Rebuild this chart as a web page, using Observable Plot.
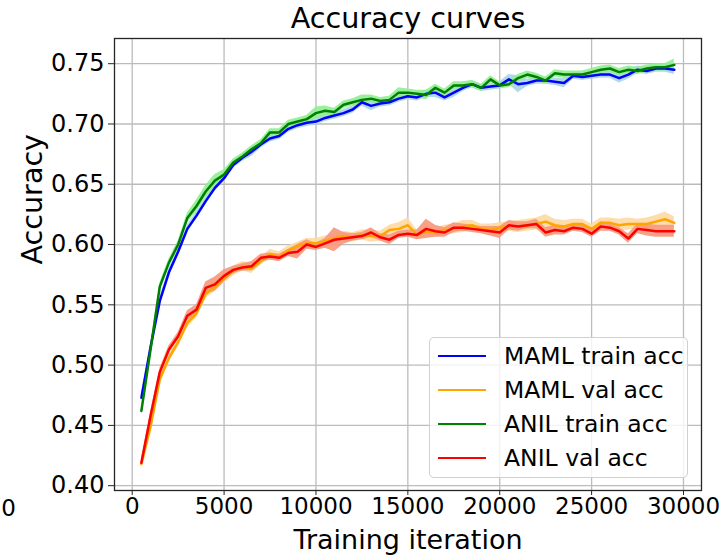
<!DOCTYPE html>
<html><head><meta charset="utf-8">
<script src="https://cdn.jsdelivr.net/npm/d3@7"></script>
<script src="https://cdn.jsdelivr.net/npm/@observablehq/plot@0.6"></script>
<style>
body{margin:0;background:#fff;}
#wrap{position:relative;width:724px;height:556px;font-family:"DejaVu Sans",sans-serif;background:#fff;}
#legend{position:absolute;left:429px;top:337px;width:259px;height:141px;border:1.3px solid #d0d0d0;border-radius:5px;background:rgba(255,255,255,0.8);box-sizing:border-box;}
.sw{position:absolute;left:8px;width:48px;height:2.5px;}
.lt{position:absolute;left:74px;height:30px;line-height:30px;font-size:23.5px;color:#000;white-space:nowrap;}
</style></head>
<body><div id="wrap"></div>
<script>
const iterations = [500,1000,1500,2000,2500,3000,3500,4000,4500,5000,5500,6000,6500,7000,7500,8000,8500,9000,9500,10000,10500,11000,11500,12000,12500,13000,13500,14000,14500,15000,15500,16000,16500,17000,17500,18000,18500,19000,19500,20000,20500,21000,21500,22000,22500,23000,23500,24000,24500,25000,25500,26000,26500,27000,27500,28000,28500,29000,29500];

const mamlTrain = [0.473,0.515,0.553,0.577,0.594,0.613,0.624,0.636,0.647,0.655,
 0.666,0.672,0.677,0.683,0.688,0.690,0.696,0.699,0.701,0.702,
 0.705,0.707,0.709,0.712,0.718,0.715,0.717,0.718,0.721,0.723,
 0.722,0.725,0.726,0.722,0.726,0.730,0.733,0.730,0.731,0.732,
 0.737,0.733,0.734,0.736,0.736,0.735,0.734,0.740,0.739,0.740,
 0.741,0.741,0.738,0.741,0.745,0.744,0.746,0.746,0.745];
const mamlTrainStd = [0.003,0.003,0.003,0.003,0.003,0.003,0.003,0.003,0.003,0.003,
 0.003,0.003,0.004,0.003,0.003,0.003,0.003,0.003,0.003,0.003,
 0.003,0.003,0.003,0.003,0.003,0.004,0.003,0.003,0.003,0.003,
 0.003,0.003,0.004,0.003,0.004,0.003,0.003,0.003,0.003,0.003,
 0.004,0.007,0.003,0.003,0.003,0.003,0.004,0.003,0.003,0.003,
 0.003,0.003,0.004,0.004,0.003,0.003,0.003,0.003,0.004];

const mamlVal = [0.418,0.449,0.488,0.506,0.519,0.535,0.543,0.559,0.565,0.572,
 0.578,0.582,0.580,0.586,0.592,0.590,0.595,0.599,0.601,0.601,
 0.603,0.605,0.607,0.606,0.608,0.607,0.607,0.612,0.613,0.616,
 0.608,0.611,0.610,0.612,0.613,0.615,0.616,0.613,0.612,0.614,
 0.615,0.615,0.616,0.617,0.619,0.616,0.615,0.617,0.617,0.613,
 0.618,0.618,0.616,0.617,0.617,0.617,0.619,0.621,0.618];
const mamlValStd = [0.004,0.004,0.004,0.004,0.004,0.004,0.004,0.004,0.004,0.004,
 0.004,0.004,0.004,0.003,0.004,0.004,0.004,0.003,0.004,0.004,
 0.004,0.004,0.004,0.004,0.004,0.005,0.004,0.004,0.005,0.006,
 0.004,0.004,0.004,0.004,0.004,0.005,0.004,0.004,0.005,0.004,
 0.004,0.005,0.005,0.005,0.006,0.005,0.005,0.004,0.004,0.004,
 0.004,0.004,0.005,0.005,0.004,0.005,0.005,0.006,0.005];

const anilTrain = [0.462,0.513,0.565,0.585,0.600,0.622,0.632,0.644,0.653,0.658,
 0.668,0.673,0.679,0.684,0.693,0.693,0.700,0.702,0.704,0.709,
 0.711,0.710,0.716,0.718,0.720,0.721,0.719,0.720,0.726,0.726,
 0.725,0.724,0.730,0.726,0.732,0.732,0.733,0.730,0.737,0.732,
 0.733,0.738,0.741,0.739,0.736,0.742,0.741,0.741,0.741,0.743,
 0.745,0.746,0.743,0.745,0.744,0.746,0.747,0.747,0.749];
const anilTrainStd = [0.002,0.003,0.003,0.003,0.003,0.004,0.005,0.005,0.005,0.004,
 0.003,0.003,0.003,0.003,0.003,0.003,0.003,0.003,0.003,0.005,
 0.004,0.003,0.003,0.003,0.004,0.003,0.003,0.003,0.004,0.003,
 0.003,0.004,0.003,0.003,0.003,0.003,0.003,0.003,0.003,0.003,
 0.003,0.003,0.003,0.003,0.003,0.003,0.003,0.003,0.003,0.003,
 0.003,0.003,0.003,0.003,0.003,0.003,0.003,0.003,0.005];

const anilVal = [0.419,0.458,0.494,0.513,0.524,0.541,0.546,0.564,0.567,0.574,
 0.579,0.581,0.582,0.589,0.590,0.589,0.593,0.594,0.600,0.598,
 0.601,0.604,0.605,0.606,0.607,0.610,0.606,0.604,0.608,0.609,
 0.608,0.613,0.611,0.610,0.614,0.614,0.613,0.612,0.611,0.610,
 0.616,0.615,0.616,0.617,0.610,0.612,0.611,0.614,0.613,0.609,
 0.615,0.614,0.611,0.605,0.613,0.612,0.611,0.611,0.611];
const anilValStd = [0.003,0.003,0.003,0.003,0.003,0.004,0.004,0.005,0.006,0.005,
 0.003,0.003,0.004,0.003,0.003,0.003,0.003,0.006,0.004,0.003,
 0.004,0.010,0.005,0.003,0.003,0.004,0.003,0.004,0.003,0.003,
 0.004,0.008,0.005,0.004,0.004,0.003,0.003,0.003,0.004,0.005,
 0.004,0.004,0.003,0.004,0.004,0.004,0.003,0.003,0.003,0.003,
 0.004,0.003,0.003,0.004,0.004,0.005,0.005,0.005,0.005];

const seriesNames = ["MAML train acc","MAML val acc","ANIL train acc","ANIL val acc"];
const xTicks = [0,5000,10000,15000,20000,25000,30000];
const yTicks = [0.40,0.45,0.50,0.55,0.60,0.65,0.70,0.75];

const series = [
  {name: seriesNames[0], v: mamlTrain, s: mamlTrainStd, line: "#0000ff", band: "#a8d6e6"},
  {name: seriesNames[1], v: mamlVal,   s: mamlValStd,   line: "#ffa500", band: "#fdd9a2"},
  {name: seriesNames[2], v: anilTrain, s: anilTrainStd, line: "#008000", band: "#90ee90"},
  {name: seriesNames[3], v: anilVal,   s: anilValStd,   line: "#ff0000", band: "#f7977c"}
];
const rowsOf = S => iterations.map((x, i) => ({x, v: S.v[i], lo: S.v[i] - S.s[i], hi: S.v[i] + S.s[i]}));

const bandOrder = [0, 2, 1, 3];
const marks = [
  Plot.gridX(xTicks, {stroke: "#bcbcbc", strokeOpacity: 1, strokeWidth: 1.3}),
  Plot.gridY(yTicks, {stroke: "#bcbcbc", strokeOpacity: 1, strokeWidth: 1.3}),
  ...bandOrder.map(i => Plot.areaY(rowsOf(series[i]), {x: "x", y1: "lo", y2: "hi", fill: series[i].band, fillOpacity: 0.9})),
  ...series.map(S => Plot.line(rowsOf(S), {x: "x", y: "v", stroke: S.line, strokeWidth: 2.5})),
  Plot.frame({stroke: "#262626", strokeWidth: 1.3}),
  Plot.axisX(xTicks, {tickFormat: d3.format("d"), tickSize: 5, tickPadding: 2, fontSize: 23, label: null, stroke: "#262626"}),
  Plot.axisY(yTicks, {tickFormat: d3.format(".2f"), tickSize: 6, tickPadding: 4, fontSize: 24, label: null, stroke: "#262626"}),
  Plot.text(["Accuracy curves"], {text: d => d, frameAnchor: "top", dy: -20, fontSize: 28.6, lineAnchor: "middle", fill: "#000"}),
  Plot.text(["Training iteration"], {text: d => d, frameAnchor: "bottom", dy: 50, fontSize: 27, lineAnchor: "middle", fill: "#000"}),
  Plot.text(["Accuracy"], {text: d => d, frameAnchor: "left", dx: -82, rotate: -90, fontSize: 28.6, lineAnchor: "middle", fill: "#000"}),
  Plot.text(["0"], {text: d => d, frameAnchor: "bottom-left", dx: -106, dy: 18, fontSize: 23, textAnchor: "middle", lineAnchor: "middle", fill: "#000"})
];

const chart = Plot.plot({
  width: 724, height: 556,
  marginLeft: 114, marginRight: 23, marginTop: 38, marginBottom: 66,
  x: {domain: [-963, 30980]},
  y: {domain: [0.3960, 0.7709]},
  style: {fontFamily: "DejaVu Sans", background: "white", color: "#000", overflow: "visible"},
  marks
});
const wrap = document.getElementById("wrap");
wrap.appendChild(chart);

const legend = document.createElement("div");
legend.id = "legend";
const rowCenters = [18, 52, 86, 120];
series.forEach((S, i) => {
  const sw = document.createElement("div");
  sw.className = "sw";
  sw.style.top = (rowCenters[i] - 1.25) + "px";
  sw.style.background = S.line;
  legend.appendChild(sw);
  const t = document.createElement("div");
  t.className = "lt";
  t.style.top = (rowCenters[i] - 15) + "px";
  t.textContent = S.name;
  legend.appendChild(t);
});
wrap.appendChild(legend);
</script>
</body></html>
